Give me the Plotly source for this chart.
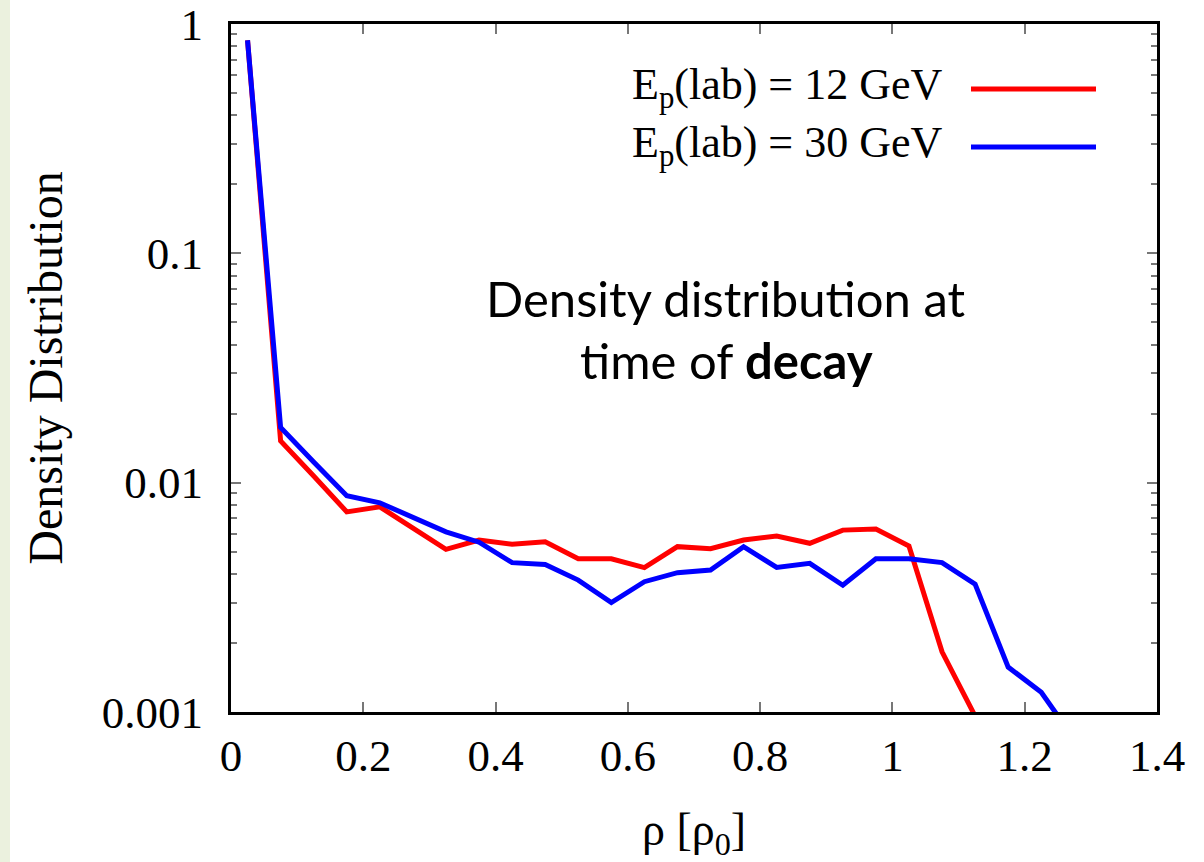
import plotly.graph_objects as go

# Bin centres of the density histogram (in units of rho_0)
rho_12 = [0.025, 0.075, 0.125, 0.175, 0.225, 0.275, 0.325, 0.375, 0.425, 0.475,
          0.525, 0.575, 0.625, 0.675, 0.725, 0.775, 0.825, 0.875, 0.925, 0.975,
          1.025, 1.075, 1.125]
dens_12 = [0.85, 0.0152, 0.0107, 0.00746, 0.00785, 0.00634, 0.00512, 0.00562,
           0.00539, 0.00552, 0.00466, 0.00466, 0.00426, 0.00526, 0.00515,
           0.00562, 0.00585, 0.00544, 0.00621, 0.00628, 0.00529, 0.00183, 0.00096]

rho_30 = [0.025, 0.075, 0.125, 0.175, 0.225, 0.275, 0.325, 0.375, 0.425, 0.475,
          0.525, 0.575, 0.625, 0.675, 0.725, 0.775, 0.825, 0.875, 0.925, 0.975,
          1.025, 1.075, 1.125, 1.175, 1.225, 1.275]
dens_30 = [0.85, 0.0174, 0.0123, 0.00877, 0.00817, 0.0071, 0.0061, 0.0055,
           0.00448, 0.0044, 0.00376, 0.003, 0.0037, 0.00405, 0.00416, 0.00526,
           0.00427, 0.00445, 0.00357, 0.00466, 0.00466, 0.00448, 0.00361,
           0.00157, 0.00122, 0.00076]

series_names = ["E<sub>p</sub>(lab) = 12 GeV", "E<sub>p</sub>(lab) = 30 GeV"]
series_colors = ["#ff0000", "#0000ff"]

x_ticks = [0, 0.2, 0.4, 0.6, 0.8, 1, 1.2, 1.4]
x_ticktext = ["0", "0.2", "0.4", "0.6", "0.8", "1", "1.2", "1.4"]
y_ticks = [0.001, 0.01, 0.1, 1]
y_ticktext = ["0.001", "0.01", "0.1", "1"]
y_minor_ticks = [m * d for d in (0.001, 0.01, 0.1) for m in range(2, 10)]

serif = "Liberation Serif, Times New Roman, serif"

fig = go.Figure()
fig.add_trace(go.Scatter(x=rho_12, y=dens_12, mode="lines", name=series_names[0],
                         line=dict(color=series_colors[0], width=5), showlegend=False))
fig.add_trace(go.Scatter(x=rho_30, y=dens_30, mode="lines", name=series_names[1],
                         line=dict(color=series_colors[1], width=5), showlegend=False))

W, H = 1204, 862
ML, MR, MT, MB = 231, 47, 24, 150
PW, PH = W - ML - MR, H - MT - MB


def px_x(px):
    return (px - ML) / PW


def px_y(py):
    return (H - MB - py) / PH


# Pale strip along the left edge of the page
fig.add_shape(type="rect", xref="paper", yref="paper",
              x0=px_x(0), x1=px_x(10), y0=px_y(H), y1=px_y(0),
              fillcolor="#ebf1de", line=dict(width=0), layer="below")

# Legend: right-aligned labels with line samples to their right
for i, (name, color) in enumerate(zip(series_names, series_colors)):
    yc = 87 + 58 * i
    fig.add_annotation(xref="paper", yref="paper", x=px_x(944), y=px_y(yc),
                       xanchor="right", yanchor="middle", showarrow=False,
                       text=name, font=dict(family=serif, size=44, color="black"))
    fig.add_shape(type="line", xref="paper", yref="paper",
                  x0=px_x(971), x1=px_x(1096), y0=px_y(yc + 2), y1=px_y(yc + 2),
                  line=dict(color=color, width=5))

# Caption inside the plot
fig.add_annotation(xref="paper", yref="paper", x=px_x(726), y=px_y(298),
                   showarrow=False, xanchor="center", yanchor="middle",
                   text="Density distribution at",
                   font=dict(family="Lato, sans-serif", size=49, color="black"))
fig.add_annotation(xref="paper", yref="paper", x=px_x(726), y=px_y(360),
                   showarrow=False, xanchor="center", yanchor="middle",
                   text="time of <b>decay</b>",
                   font=dict(family="Lato, sans-serif", size=49, color="black"))

fig.update_layout(
    width=W, height=H,
    margin=dict(l=ML, r=MR, t=MT, b=MB, pad=0, autoexpand=False),
    paper_bgcolor="white", plot_bgcolor="white",
    showlegend=False,
)

fig.update_xaxes(
    range=[0, 1.4], tickvals=x_ticks, ticktext=x_ticktext, automargin=False,
    ticks="inside", ticklen=10, tickwidth=1.5, tickcolor="#777777",
    ticklabelstandoff=2, ticklabeloverflow="allow",
    showline=True, linecolor="black", linewidth=3, mirror="allticks",
    showgrid=False, zeroline=False,
    tickfont=dict(family=serif, size=45, color="black"),
    title=dict(text="ρ [ρ<sub>0</sub>]", standoff=36,
               font=dict(family=serif, size=46, color="black")),
)
fig.update_yaxes(
    type="log", range=[-3, 0], tickvals=y_ticks, ticktext=y_ticktext, automargin=False,
    ticks="inside", ticklen=10, tickwidth=1.5, tickcolor="#777777",
    ticklabelstandoff=16, ticklabeloverflow="allow",
    minor=dict(tickvals=y_minor_ticks, ticks="inside", ticklen=6, tickwidth=1.5,
               tickcolor="#777777", showgrid=False),
    showline=True, linecolor="black", linewidth=3, mirror="allticks",
    showgrid=False, zeroline=False,
    tickfont=dict(family=serif, size=45, color="black"),
    title=dict(text="Density Distribution", standoff=24,
               font=dict(family=serif, size=48, color="black")),
)

fig.write_html("out.html")
